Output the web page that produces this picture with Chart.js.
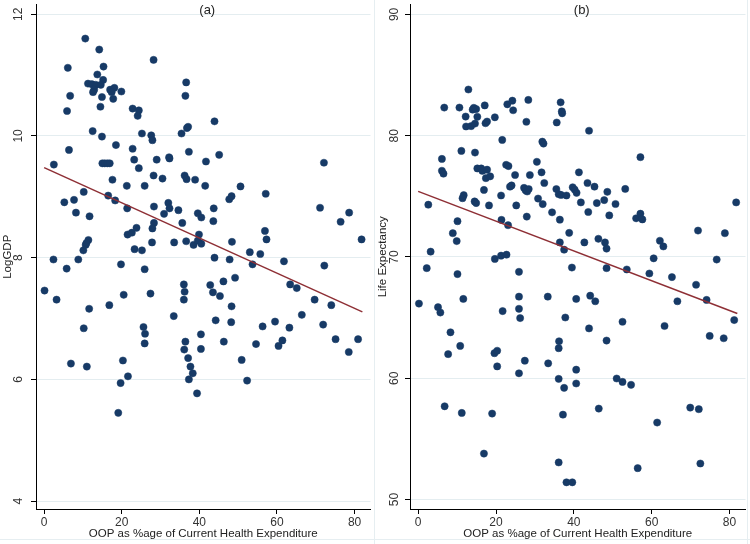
<!DOCTYPE html>
<html lang="en">
<head>
  <meta charset="UTF-8">
  <title>OOP share vs LogGDP and Life Expectancy</title>
  <script src="https://cdn.jsdelivr.net/npm/chart.js@4"></script>
  <style>
    body {
      margin: 0;
      background: #fff;
    }
    .panel {
      position: absolute;
      top: 0;
      width: 375px;
      height: 544px;
    }
    #left { left: 0; }
    #right { left: 375px; }
  </style>
</head>
<body>
  <div class="panel" id="left"><canvas id="gdpChart" width="375" height="544"></canvas></div>
  <div class="panel" id="right"><canvas id="lifeChart" width="375" height="544"></canvas></div>

  <script>
    // Panel (a): OOP % vs LogGDP
    const oopA = [10.6, 14.2, 6.1, 15.3, 28.2, 13.7, 15.2, 11.3, 12.3, 13.3, 14.6, 12.9, 12.6, 17.0, 18.1, 17.4, 19.9, 6.7, 14.9, 17.8,
      36.6, 36.4, 14.5, 5.9, 22.8, 24.4, 24.1, 12.5, 14.9, 25.2, 27.6, 27.9, 35.4, 37.1, 36.8, 43.9, 6.4, 18.5, 22.8, 23.2,
      24.4, 29.0, 32.2, 32.3, 37.3, 45.1, 41.7, 72.1, 2.5, 15.0, 15.6, 16.3, 16.9, 17.6, 21.3, 25.9, 28.2, 30.5, 36.2, 36.7,
      38.9, 41.5, 50.6, 10.2, 16.5, 18.3, 5.2, 7.7, 8.2, 11.7, 21.4, 28.3, 28.3, 30.9, 32.0, 32.3, 34.6, 35.6, 47.7, 48.3,
      57.1, 43.7, 39.6, 40.5, 43.6, 71.1, 78.6, 76.4, 81.8, 27.9, 21.5, 22.6, 23.8, 10.1, 10.7, 11.4, 10.9, 27.8, 33.5, 36.6,
      38.5, 23.3, 25.2, 39.9, 56.9, 57.3, 39.6, 40.5, 48.4, 53.0, 55.7, 43.9, 47.8, 61.8, 2.4, 8.8, 5.8, 19.8, 25.9, 0.1,
      3.2, 20.5, 27.4, 16.8, 11.6, 36.0, 36.2, 36.0, 33.4, 10.2, 25.6, 26.0, 25.9, 36.4, 36.1, 6.9, 11.0, 20.3, 37.1, 37.7,
      38.3, 37.3, 21.6, 19.7, 39.4, 19.1, 53.7, 72.2, 42.8, 46.2, 49.2, 43.5, 45.3, 63.4, 65.1, 48.3, 69.7, 74.0, 44.2, 48.2,
      56.3, 59.5, 63.2, 66.4, 71.9, 40.4, 40.4, 46.3, 54.6, 60.4, 61.4, 75.1, 80.9, 78.5, 50.9, 52.3];
    const logGdp = [11.60, 11.42, 11.12, 11.14, 11.25, 11.01, 10.92, 10.86, 10.85, 10.84, 10.84, 10.76, 10.72, 10.76, 10.79, 10.72, 10.73, 10.66, 10.64, 10.61,
      10.88, 10.66, 10.48, 10.41, 10.45, 10.42, 10.33, 10.08, 9.99, 10.04, 10.01, 9.93, 10.04, 10.15, 10.13, 10.24, 9.77, 9.85, 9.79, 9.61,
      9.47, 9.61, 9.65, 9.63, 9.74, 9.69, 9.58, 9.56, 9.53, 9.55, 9.55, 9.55, 9.55, 9.28, 9.18, 9.18, 9.35, 9.30, 9.35, 9.29,
      9.28, 9.18, 9.17, 9.08, 9.02, 8.94, 8.91, 8.95, 8.74, 8.68, 8.81, 8.84, 8.57, 8.72, 8.90, 8.81, 8.78, 8.57, 8.96, 9.01,
      9.05, 8.81, 8.73, 8.66, 8.60, 8.82, 8.74, 8.59, 8.30, 8.48, 8.38, 8.41, 8.49, 8.12, 8.21, 8.29, 8.24, 8.25, 8.25, 8.27,
      8.21, 8.14, 8.12, 8.38, 8.44, 8.30, 8.28, 8.23, 8.26, 8.09, 8.06, 8.00, 7.97, 7.94, 7.97, 7.97, 7.82, 7.89, 7.81, 7.46,
      7.31, 7.39, 7.41, 7.22, 7.16, 7.56, 7.44, 7.31, 7.04, 6.84, 6.86, 6.75, 6.59, 6.62, 6.49, 6.26, 6.21, 6.31, 6.35, 6.21,
      6.10, 6.00, 6.05, 5.94, 5.77, 5.45, 7.89, 7.87, 7.55, 7.61, 7.67, 7.43, 7.37, 7.56, 7.50, 7.20, 7.31, 7.22, 6.97, 6.94,
      6.87, 6.95, 6.85, 7.06, 6.90, 6.74, 6.50, 6.62, 6.58, 6.55, 6.64, 6.66, 6.66, 6.45, 6.32, 5.98];

    // Panel (b): OOP % vs Life Expectancy
    const oopB = [12.9, 6.7, 10.6, 14.3, 14.9, 14.0, 17.1, 12.2, 15.2, 12.3, 13.6, 14.6, 17.3, 17.7, 19.7, 22.9, 24.2, 24.4, 28.3, 27.8,
      36.6, 36.9, 37.0, 35.6, 21.6, 31.9, 32.2, 6.1, 11.1, 14.6, 6.1, 6.5, 15.2, 16.2, 16.5, 17.7, 17.4, 18.5, 22.6, 23.2,
      24.9, 28.7, 30.5, 31.7, 32.4, 24.0, 23.6, 16.9, 27.2, 27.6, 28.0, 28.4, 35.5, 36.1, 36.7, 38.1, 2.6, 11.7, 11.4, 14.5,
      14.9, 18.2, 21.3, 25.2, 30.8, 32.0, 34.4, 36.4, 27.9, 10.1, 21.4, 23.1, 8.9, 9.9, 36.4, 37.5, 3.2, 19.7, 21.3, 22.7,
      43.9, 57.1, 41.3, 39.7, 40.2, 40.7, 43.5, 45.3, 48.6, 53.2, 81.7, 41.8, 45.9, 47.8, 50.7, 43.7, 49.1, 56.0, 57.1, 57.6,
      38.8, 42.7, 46.3, 48.0, 48.4, 71.9, 78.8, 62.1, 63.0, 60.5, 76.7, 2.2, 10.1, 25.9, 0.2, 11.6, 25.9, 33.3, 5.1, 5.7,
      21.7, 25.9, 26.2, 37.8, 8.3, 10.8, 7.7, 19.6, 20.3, 20.3, 27.4, 33.4, 36.2, 36.1, 25.9, 36.1, 37.5, 6.8, 11.2, 19.0,
      37.2, 16.9, 36.1, 38.1, 39.6, 39.5, 48.4, 53.6, 59.4, 65.2, 71.4, 74.1, 40.6, 44.2, 45.5, 66.6, 52.5, 43.9, 63.3, 81.2,
      74.9, 78.5, 48.4, 40.6, 40.6, 51.0, 52.5, 54.7, 46.4, 69.9, 72.1, 61.4, 56.4, 72.5];
    const lifeExp = [83.81, 82.32, 82.32, 82.30, 82.20, 82.15, 82.50, 81.58, 81.56, 80.76, 80.79, 81.00, 81.03, 81.17, 81.52, 82.59, 82.89, 82.10, 82.95, 81.15,
      82.75, 82.01, 81.85, 81.09, 79.65, 79.51, 79.35, 78.09, 78.75, 78.61, 77.11, 76.87, 77.30, 77.30, 77.10, 77.20, 76.50, 76.65, 77.60, 77.50,
      76.76, 76.76, 77.85, 76.98, 76.10, 75.90, 75.80, 75.53, 75.70, 75.50, 75.40, 75.60, 75.60, 75.18, 75.12, 75.07, 74.31, 75.10, 74.85, 74.58,
      74.45, 74.25, 75.07, 74.25, 74.82, 74.36, 73.68, 73.08, 73.33, 72.95, 73.06, 72.62, 71.96, 71.31, 71.20, 70.60, 70.44, 69.84, 70.11, 70.19,
      80.41, 78.23, 76.98, 75.75, 75.56, 75.29, 76.10, 75.80, 75.37, 75.61, 74.50, 74.50, 74.45, 74.69, 74.37, 73.71, 73.43, 73.19, 73.57, 73.10,
      71.99, 71.20, 71.50, 71.20, 70.69, 72.18, 71.96, 71.34, 70.87, 69.89, 69.79, 69.08, 68.59, 68.78, 66.16, 66.54, 66.73, 66.73, 65.86, 65.42,
      65.54, 65.73, 64.96, 65.01, 63.79, 62.67, 61.99, 62.07, 62.27, 60.98, 61.45, 61.23, 63.05, 62.48, 60.41, 59.95, 59.21, 57.69, 57.14, 57.09,
      57.00, 53.79, 53.06, 51.42, 51.42, 69.13, 69.08, 68.97, 68.64, 68.34, 67.71, 66.46, 66.54, 66.81, 66.35, 66.35, 64.66, 64.11, 64.31, 64.80,
      63.49, 63.30, 63.11, 60.71, 59.57, 59.98, 59.70, 59.46, 57.50, 57.58, 57.45, 56.35, 52.59, 52.97];

    // fitted lines (end points)
    const fitX = [0, 82];
    const fitGdp = [9.48, 7.11];
    const fitLife = [75.41, 65.34];

    // tick labels
    const xTicks = [0, 20, 40, 60, 80];
    const gdpTicks = [4, 6, 8, 10, 12];
    const lifeTicks = [50, 60, 70, 80, 90];

    const FONT = '"Liberation Sans", Arial, sans-serif';
    const NAVY = '#173a66';
    const MAROON = '#8e2f35';

    // draws the rotated y tick labels, the panel letter and the faint panel frame
    const panelText = {
      id: 'panelText',
      afterDraw(chart, args, opts) {
        const ctx = chart.ctx;
        const s = chart.scales.y;
        const area = chart.chartArea;
        ctx.save();
        ctx.strokeStyle = '#e6eef1';
        ctx.lineWidth = 1;
        ctx.beginPath();
        ctx.moveTo(opts.frameX, 0);
        ctx.lineTo(opts.frameX, chart.height);
        ctx.moveTo(0, chart.height - 4.5);
        ctx.lineTo(chart.width, chart.height - 4.5);
        ctx.stroke();

        ctx.fillStyle = '#333';
        ctx.font = '12px ' + FONT;
        ctx.textAlign = 'center';
        ctx.textBaseline = 'middle';
        s.ticks.forEach(t => {
          ctx.save();
          ctx.translate(s.right - opts.labelOffset, s.getPixelForValue(t.value));
          ctx.rotate(-Math.PI / 2);
          ctx.fillText(String(t.value), 0, 0);
          ctx.restore();
        });
        ctx.font = '13px ' + FONT;
        ctx.fillStyle = '#222';
        ctx.fillText(opts.letter, (area.left + area.right) / 2 + 4, 10);
        ctx.restore();
      }
    };

    function makePanel(id, xs, ys, fit, yMin, yMax, yTicks, yTitle, letter, yWidth, rightPad, labelOffset, frameX) {
      const ctx = document.getElementById(id).getContext('2d');
      return new Chart(ctx, {
        type: 'scatter',
        data: {
          datasets: [{
            type: 'line',
            data: fitX.map((x, i) => ({ x: x, y: fit[i] })),
            borderColor: MAROON,
            borderWidth: 1.5,
            pointRadius: 0,
            order: 0
          }, {
            data: xs.map((x, i) => ({ x: x, y: ys[i] })),
            backgroundColor: NAVY,
            borderColor: NAVY,
            pointRadius: 3.6,
            borderWidth: 0.5,
            clip: false,
            order: 1
          }]
        },
        options: {
          responsive: false,
          animation: false,
          layout: { padding: { top: 0, right: rightPad, left: 0, bottom: 0 } },
          plugins: {
            legend: { display: false },
            tooltip: { enabled: false },
            panelText: { letter: letter, labelOffset: labelOffset, frameX: frameX }
          },
          scales: {
            x: {
              type: 'linear',
              min: -2.1,
              max: 84.1,
              afterBuildTicks: s => { s.ticks = xTicks.map(v => ({ value: v })); },
              afterFit: s => { s.height = 35; },
              grid: { drawOnChartArea: false, drawTicks: true, tickLength: 5, tickColor: '#000' },
              border: { color: '#000', width: 1 },
              ticks: { color: '#333', font: { family: FONT, size: 12 }, padding: 1, maxRotation: 0 },
              title: { display: true, text: 'OOP as %age of Current Health Expenditure', color: '#222',
                font: { family: FONT, size: 11.5 }, padding: { top: 0, bottom: 3 } }
            },
            y: {
              type: 'linear',
              min: yMin,
              max: yMax,
              afterBuildTicks: s => { s.ticks = yTicks.map(v => ({ value: v })); },
              afterFit: s => { s.width = yWidth; },
              grid: { color: '#e4edf0', drawTicks: true, tickLength: 5, tickColor: '#000' },
              border: { color: '#000', width: 1 },
              ticks: { display: false },
              title: { display: true, text: yTitle, color: '#222',
                font: { family: FONT, size: 11.5 }, padding: { top: 1, bottom: 0 } }
            }
          }
        },
        plugins: [panelText]
      });
    }

    makePanel('gdpChart', oopA, logGdp, fitGdp, 3.87, 12.16, gdpTicks, 'LogGDP', '(a)', 36, 0, 17, 374.5);
    makePanel('lifeChart', oopB, lifeExp, fitLife, 49.22, 90.82, lifeTicks, 'Life Expectancy', '(b)', 35, 2, 15, 372.5);
  </script>
</body>
</html>
